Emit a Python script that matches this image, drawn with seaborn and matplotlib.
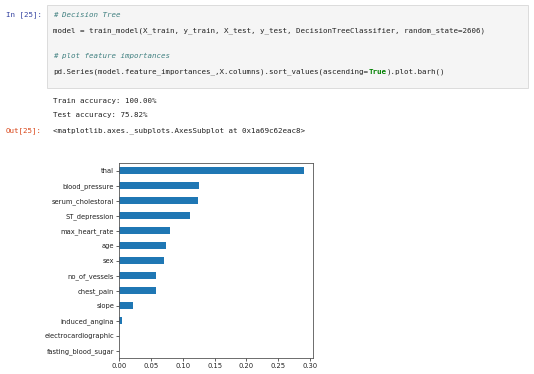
import seaborn as sns
import matplotlib.pyplot as plt
from matplotlib.patches import Rectangle

# feature importances (largest first = top bar)
features = ['thal', 'blood_pressure', 'serum_cholestoral', 'ST_depression',
            'max_heart_rate', 'age', 'sex', 'no_of_vessels', 'chest_pain',
            'slope', 'induced_angina', 'electrocardiographic',
            'fasting_blood_sugar']
importances = [0.290, 0.126, 0.124, 0.112, 0.080, 0.074, 0.071, 0.058,
               0.058, 0.022, 0.004, 0.0, 0.0]

code_lines = ['# Decision Tree',
              'model = train_model(X_train, y_train, X_test, y_test, DecisionTreeClassifier, random_state=2606)',
              '# plot feature importances']
series_head = 'pd.Series(model.feature_importances_,X.columns).sort_values(ascending='
series_tail = ').plot.barh()'
output_lines = ['Train accuracy: 100.00%', 'Test accuracy: 75.82%']
out_repr = '<matplotlib.axes._subplots.AxesSubplot at 0x1a69c62eac8>'

W, H = 534, 374
fig = plt.figure(figsize=(W / 100, H / 100), dpi=100)
fig.patch.set_facecolor('white')


def px(x, y):
    return x / W, 1 - y / H


mono = dict(family='DejaVu Sans Mono', fontsize=5.4, va='center', ha='left')
cw = 0.602 * 5.4 * 100 / 72  # char width in pixels

# code cell box
x0, y0 = px(47, 88)
x1, y1 = px(528, 5)
fig.patches.append(Rectangle((x0, y0), x1 - x0, y1 - y0, transform=fig.transFigure,
                             facecolor='#f5f5f5', edgecolor='#dcdcdc', lw=0.7))

fig.text(*px(6, 15), 'In [25]:', color='#303F9F', **mono)
fig.text(*px(53, 15), code_lines[0], color='#408080', style='italic', **mono)
fig.text(*px(53, 31), code_lines[1], color='#222222', **mono)
fig.text(*px(53, 56), code_lines[2], color='#408080', style='italic', **mono)
fig.text(*px(53, 72), series_head, color='#222222', **mono)
fig.text(*px(53 + cw * len(series_head), 72), 'True', color='#008000',
         weight='bold', **mono)
fig.text(*px(53 + cw * (len(series_head) + 4), 72), series_tail, color='#222222', **mono)

fig.text(*px(53, 101), output_lines[0], color='#222222', **mono)
fig.text(*px(53, 115), output_lines[1], color='#222222', **mono)
fig.text(*px(6, 131), 'Out[25]:', color='#D84315', **mono)
fig.text(*px(53, 131), out_repr, color='#222222', **mono)

# the bar chart
ax = fig.add_axes([119 / W, 1 - 358 / H, (313 - 119) / W, (358 - 163) / H])
sns.barplot(x=importances, y=features, orient='h', color='#1f77b4',
            saturation=1, width=0.5, ax=ax)
ax.set_xlabel('')
ax.set_ylabel('')
ax.set_xticks([0.0, 0.05, 0.10, 0.15, 0.20, 0.25, 0.30])
ax.set_xticklabels(['0.00', '0.05', '0.10', '0.15', '0.20', '0.25', '0.30'])
ax.tick_params(axis='both', labelsize=4.9, length=2, width=0.5, pad=1.5,
               colors='#222222')
for s in ax.spines.values():
    s.set_linewidth(0.6)
    s.set_color('#555555')

fig.savefig('out.png', dpi=100)
